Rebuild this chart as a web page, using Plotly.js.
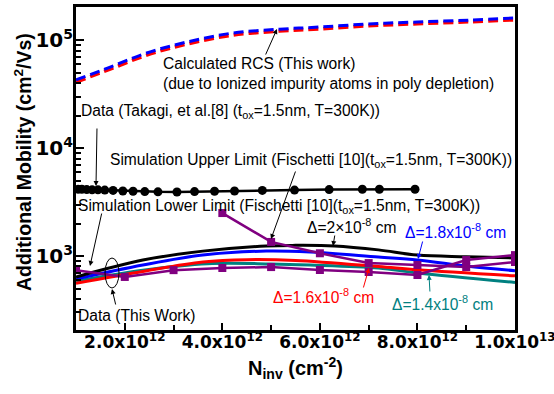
<!DOCTYPE html>
<html><head><meta charset="utf-8">
<script src="https://cdn.plot.ly/plotly-3.0.1.min.js"></script>
<style>html,body{margin:0;padding:0;background:#fff}#g{width:554px;height:394px}</style>
</head><body><div id="g"></div>
<script>
// RCS (calculated, dashed)
const rcsN    = [1.0e12, 1.7e12, 2.45e12, 3.27e12, 4.21e12, 5.17e12, 6.0e12, 7.0e12, 8.0e12, 9.06e12, 1.0e13];
const rcsBlue = [42700, 56200, 75900, 95800, 116000, 126000, 132000, 141000, 147000, 153000, 160000];
const rcsRed  = [40800, 53800, 72500, 91800, 111000, 121000, 127000, 135500, 141500, 147500, 154000];
// Takagi data (circles)
const takN = [1.04e12,1.12e12,1.22e12,1.33e12,1.45e12,1.59e12,1.76e12,1.96e12,2.17e12,2.41e12,2.68e12,3.07e12,3.43e12,3.84e12,4.25e12,4.82e12,5.48e12,6.19e12,6.87e12,7.22e12,7.95e12];
const takV = [4150,4150,4120,4100,4100,4080,4050,4000,3980,3950,3930,3920,3950,3980,4000,4050,4080,4120,4150,4150,4150];
// Fischetti simulation limits (purple squares)
const upN = [4e12,5e12,6e12,7e12,8e12,9e12,1e13];
const upV = [2500,1350,1060,860,826,791,880];
const loN = [1e12,2e12,3e12,4e12,5e12,6e12,7e12,8e12,9e12,1e13];
const loV = [740,640,740,775,790,742,711,667,918,1020];
// This work (smooth curves)
const d20N = [1e12,2.37e12,3.6e12,4.9e12,5.5e12,6.3e12,7.2e12,8e12,9e12,1e13];
const d20V = [640,918,1110,1240,1255,1240,1140,1020,985,960];
const d18N = [1e12,2.37e12,3.6e12,4.9e12,5.8e12,7.2e12,8e12,9e12,1e13];
const d18V = [612,825,1021,1112,1089,979,920,810,730];
const d16N = [1e12,2.37e12,3.6e12,4.5e12,5.5e12,7.2e12,8e12,1e13];
const d16V = [560,720,880,925,910,800,745,655];
const d14N = [1e12,2.37e12,3.7e12,5e12,5.8e12,7.2e12,8e12,1e13];
const d14V = [587,740,850,845,826,774,697,570];
// tick labels
const xTickVals = [2e12,4e12,6e12,8e12,1e13];
const xTickText = ['2.0x10<sup>12</sup>','4.0x10<sup>12</sup>','6.0x10<sup>12</sup>','8.0x10<sup>12</sup>','1.0x10<sup>13</sup>'];
const yTickVals = [1e3,1e4,1e5];
const yTickText = ['10<sup>3</sup>','10<sup>4</sup>','10<sup>5</sup>'];

const BLUE='#0000ff', RED='#ff0000', TEAL='#008080', PURP='#800080';
const dashPat = '10px,5px';
const traces = [
  {x:rcsN,y:rcsRed,mode:'lines',line:{color:RED,width:3.5,dash:dashPat,shape:'spline'}},
  {x:rcsN,y:rcsBlue,mode:'lines',line:{color:BLUE,width:3,dash:dashPat,shape:'spline'}},
  {x:takN,y:takV,mode:'lines+markers',line:{color:'#000',width:2.5},marker:{symbol:'circle',size:9,color:'#000'}},
  {x:d14N,y:d14V,mode:'lines',line:{color:TEAL,width:3,shape:'spline'}},
  {x:d16N,y:d16V,mode:'lines',line:{color:RED,width:3,shape:'spline'}},
  {x:d18N,y:d18V,mode:'lines',line:{color:BLUE,width:3,shape:'spline'}},
  {x:d20N,y:d20V,mode:'lines',line:{color:'#000',width:3,shape:'spline'}},
  {x:upN,y:upV,mode:'lines+markers',line:{color:PURP,width:2.5},marker:{symbol:'square',size:8,color:PURP}},
  {x:loN,y:loV,mode:'lines+markers',line:{color:PURP,width:2.5},marker:{symbol:'square',size:8,color:PURP}}
];

// pixel -> paper helpers for text placement
const L=76,R=515,T=7,B=330;
const PX = p => (p-L)/(R-L);
const PY = p => (B-p)/(B-T);
const FS = 15.6;
const tfont = {family:'Liberation Sans, Arial', size:FS, color:'#000'};
function txt(t,x,y,color,size){return {text:t,x:PX(x),y:PY(y),xref:'paper',yref:'paper',xanchor:'left',yanchor:'middle',showarrow:false,font:Object.assign({},tfont,{color:color||'#000',size:size||FS})};}
function arr(hx,hy,tx,ty,color){return {text:'',x:PX(hx),y:PY(hy),xref:'paper',yref:'paper',ax:tx-hx,ay:ty-hy,showarrow:true,arrowhead:2,arrowsize:1,arrowwidth:1,arrowcolor:color||'#000'};}

const annotations = [
  txt('Calculated RCS (This work)',161,63),
  txt('(due to Ionized impurity atoms in poly depletion)',161,84),
  txt('Data (Takagi, et al.[8] (t<sub>ox</sub>=1.5nm, T=300K))',79,111),
  txt('Simulation Upper Limit (Fischetti [10](t<sub>ox</sub>=1.5nm, T=300K))',108,160),
  txt('Simulation Lower Limit (Fischetti [10](t<sub>ox</sub>=1.5nm, T=300K))',76,206),
  txt('Data (This Work)',76,315),
  txt('Δ=2×10<sup>-8</sup> cm',305,226),
  txt('Δ=1.8x10<sup>-8</sup> cm',403,231,BLUE),
  txt('Δ=1.6x10<sup>-8</sup> cm',271,296,RED),
  txt('Δ=1.4x10<sup>-8</sup> cm',390,303,TEAL),
  arr(277,29,265,56),
  arr(96,186,97,127),
  arr(271,239,296,170),
  arr(90,266,102,212),
  arr(333,246,335,234),
  arr(418,259,423,240,BLUE),
  arr(369,268,363,289,RED),
  arr(429,275,430,293,TEAL),
  arr(112,289,116,306),
  {text:'Additional Mobility (cm<sup>2</sup>/Vs)',x:PX(23),y:PY(162),xref:'paper',yref:'paper',xanchor:'center',yanchor:'middle',textangle:-90,showarrow:false,font:{family:'Liberation Sans, Arial',size:19.5,weight:'bold',color:'#000'}}
];

const yMinor = [];
[100,1000,10000,100000].forEach(d=>{for(let k=2;k<=9;k++){yMinor.push(k*d);}});

const layout = {
  width:554,height:394,
  margin:{l:L,r:554-R,t:T,b:394-B},
  paper_bgcolor:'#fff',plot_bgcolor:'#fff',
  showlegend:false,
  font:{family:'Liberation Sans, Arial',color:'#000'},
  xaxis:{range:[1e12,1e13],tickmode:'array',tickvals:xTickVals,ticktext:xTickText,
    ticks:'inside',ticklen:7,tickwidth:2,tickcolor:'#000',ticklabeloverflow:'allow',ticklabelstandoff:-5,
    showline:true,linewidth:3,linecolor:'#000',mirror:true,showgrid:false,zeroline:false,
    tickfont:{family:'DejaVu Sans',size:17,weight:'bold',color:'#000'},
    minor:{tickmode:'array',tickvals:[3e12,5e12,7e12,9e12],ticks:'inside',ticklen:5,tickwidth:2,tickcolor:'#000',showgrid:false},
    title:{text:'N<sub>inv</sub> (cm<sup>-2</sup>)',font:{family:'Liberation Sans, Arial',size:20,weight:'bold',color:'#000'},standoff:10}},
  yaxis:{type:'log',range:[2.315,5.306],tickmode:'array',tickvals:yTickVals,ticktext:yTickText,
    ticks:'inside',ticklen:8,tickwidth:2,tickcolor:'#000',ticklabelstandoff:-4,
    showline:true,linewidth:3,linecolor:'#000',mirror:true,showgrid:false,zeroline:false,
    tickfont:{family:'DejaVu Sans',size:20,weight:'bold',color:'#000'},
    minor:{tickmode:'array',tickvals:yMinor,ticks:'inside',ticklen:5,tickwidth:2,tickcolor:'#000',showgrid:false}},
  shapes:[{type:'circle',xref:'paper',yref:'paper',x0:PX(105),x1:PX(119),y0:PY(288),y1:PY(258),line:{color:'#000',width:1}}],
  annotations:annotations
};
Plotly.newPlot('g',traces,layout,{staticPlot:true,displayModeBar:false});
</script></body></html>
